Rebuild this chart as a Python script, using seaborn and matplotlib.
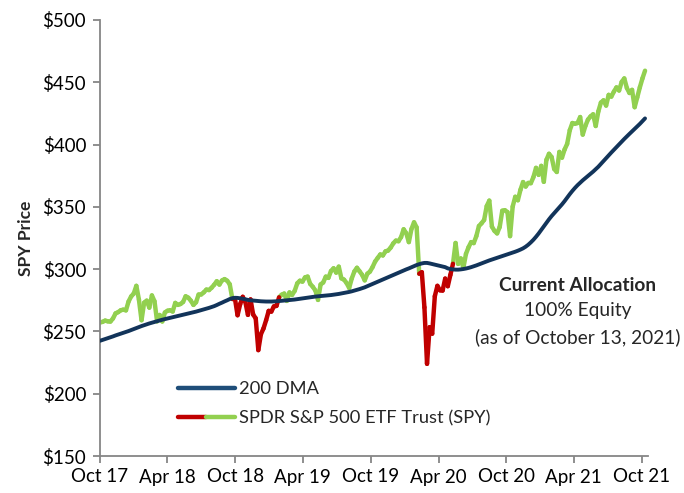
import pandas as pd
import seaborn as sns
import matplotlib.pyplot as plt
from matplotlib.lines import Line2D
from matplotlib.legend_handler import HandlerTuple

# weekly SPY closes (Fridays)
price_2017 = [257.1, 257.7, 258.7, 258.1, 257.9, 260.4, 264.5, 265.5, 267.0, 267.5, 266.9]
price_2018 = [274.0, 278.1, 280.4, 286.6, 275.5, 259.0, 273.1, 274.7, 269.1, 278.9, 274.2, 258.1, 263.2,
              258.0, 265.2, 266.6, 267.0, 266.0, 272.9, 271.3, 272.0, 273.6, 278.2, 277.1, 274.7, 271.3,
              273.4, 279.6, 279.7, 281.4, 283.6, 283.2, 285.1, 287.5, 290.3, 287.6, 290.9, 292.0, 290.7,
              287.8, 276.0, 276.3, 263.0, 271.9, 277.8, 273.7, 263.3, 275.7, 263.6, 260.5, 235.0, 247.8]
price_2019 = [252.4, 259.0, 266.5, 265.9, 270.1, 270.5, 277.4, 279.5, 280.4, 274.5, 281.3, 279.3, 282.5,
              288.6, 290.7, 290.0, 293.4, 294.0, 288.1, 285.8, 282.8, 275.3, 287.7, 289.3, 294.0, 293.0,
              298.5, 300.7, 297.2, 302.0, 292.6, 291.6, 288.9, 284.9, 292.5, 298.1, 301.1, 298.3, 295.4,
              291.0, 296.3, 298.0, 301.6, 306.1, 309.0, 311.8, 311.0, 314.3, 314.9, 317.3, 320.7, 322.9]
price_2020 = [322.4, 325.7, 332.0, 328.8, 321.7, 332.2, 337.6, 333.5, 296.3, 297.5, 269.3, 224.0, 253.4,
              248.2, 278.2, 286.6, 283.0, 282.8, 292.4, 286.3, 295.4, 304.3, 321.0, 304.2, 308.6, 301.0,
              312.2, 317.6, 321.7, 320.9, 326.5, 334.6, 336.8, 339.5, 350.6, 355.0, 334.1, 330.7, 328.7,
              333.8, 346.9, 347.3, 345.8, 326.5, 350.2, 358.1, 355.3, 363.7, 369.9, 366.3, 369.2, 369.0]
price_2021 = [373.9, 381.3, 375.7, 382.9, 370.1, 387.7, 392.6, 390.0, 380.4, 378.0, 394.1, 389.5, 396.0,
              400.6, 411.5, 417.3, 416.7, 417.3, 422.1, 408.0, 414.9, 420.0, 422.6, 424.3, 414.9, 426.6,
              433.7, 435.5, 431.3, 439.9, 438.5, 442.5, 445.9, 443.4, 450.3, 453.1, 445.4, 441.4, 443.9,
              430.0, 437.9, 445.9, 453.1, 459.3]

# 200-day moving average, same weeks
dma_2017 = [242.5, 243.2, 243.9, 244.6, 245.3, 246.0, 246.8, 247.5, 248.2, 248.9, 249.6]
dma_2018 = [250.3, 251.1, 251.9, 252.7, 253.5, 254.3, 255.0, 255.7, 256.4, 257.0, 257.6, 258.2, 258.8,
            259.4, 259.9, 260.4, 260.9, 261.4, 261.9, 262.4, 262.9, 263.4, 263.9, 264.4, 264.9, 265.4,
            265.9, 266.5, 267.1, 267.7, 268.3, 268.9, 269.6, 270.3, 271.2, 272.2, 273.1, 274.1, 275.0,
            276.0, 276.7, 277.0, 276.9, 276.6, 276.2, 275.8, 275.3, 275.0, 274.8, 274.6, 274.4, 274.2]
dma_2019 = [274.1, 274.0, 274.0, 274.0, 274.1, 274.2, 274.4, 274.6, 274.8, 275.0, 275.2, 275.4, 275.6,
            275.9, 276.2, 276.5, 276.8, 277.1, 277.4, 277.7, 278.0, 278.2, 278.4, 278.6, 278.8, 279.0,
            279.2, 279.5, 279.8, 280.1, 280.5, 280.9, 281.3, 281.7, 282.2, 282.8, 283.4, 284.0, 284.7,
            285.4, 286.3, 287.2, 288.1, 289.0, 289.9, 290.8, 291.7, 292.6, 293.5, 294.4, 295.3, 296.2]
dma_2020 = [297.1, 298.0, 298.9, 299.8, 300.6, 301.5, 302.4, 303.3, 304.0, 304.6, 305.0, 305.0, 304.6,
            304.1, 303.6, 303.1, 302.6, 302.1, 301.6, 300.6, 300.1, 299.8, 299.6, 299.6, 299.8, 300.1,
            300.5, 301.0, 301.6, 302.3, 303.0, 303.8, 304.6, 305.4, 306.2, 307.0, 307.7, 308.4, 309.1,
            309.8, 310.5, 311.2, 311.9, 312.6, 313.3, 314.0, 314.8, 315.7, 316.7, 318.0, 319.6, 321.5]
dma_2021 = [323.6, 326.0, 328.6, 331.4, 334.3, 337.2, 340.0, 342.6, 345.0, 347.3, 349.6, 352.0, 354.6,
            357.4, 360.2, 362.8, 365.2, 367.4, 369.4, 371.3, 373.1, 374.8, 376.5, 378.3, 380.2, 382.2,
            384.5, 386.8, 389.1, 391.4, 393.6, 395.8, 398.0, 400.2, 402.4, 404.5, 406.6, 408.6, 410.6,
            412.6, 414.6, 416.6, 418.8, 421.0]

tick_labels = ['Oct 17', 'Apr 18', 'Oct 18', 'Apr 19', 'Oct 19', 'Apr 20', 'Oct 20', 'Apr 21', 'Oct 21']
y_ticks = [150, 200, 250, 300, 350, 400, 450, 500]

price = price_2017 + price_2018 + price_2019 + price_2020 + price_2021
dma = dma_2017 + dma_2018 + dma_2019 + dma_2020 + dma_2021
dates = pd.date_range('2017-10-20', periods=len(price), freq='W-FRI')

GREEN = '#92D050'
RED = '#C00000'
NAVY = '#12345A'

# split price into 2-point segments, red when under the 200 DMA
rows = []
for i in range(len(price) - 1):
    below = (price[i] + price[i + 1]) < (dma[i] + dma[i + 1])
    state = 'below' if below else 'above'
    rows.append((i, dates[i], price[i], state))
    rows.append((i, dates[i + 1], price[i + 1], state))
segs = pd.DataFrame(rows, columns=['seg', 'date', 'price', 'state'])

sns.set_style('white')
plt.rcParams['font.family'] = ['Lato', 'DejaVu Sans']

fig = plt.figure(figsize=(6.84, 4.93), dpi=100)
ax = fig.add_axes([100 / 684, 37 / 493, 548 / 684, 436 / 493])

sns.lineplot(data=segs, x='date', y='price', hue='state', units='seg', estimator=None,
             palette={'above': GREEN, 'below': RED}, linewidth=3.2, legend=False,
             sort=False, solid_capstyle='round', ax=ax)
sns.lineplot(x=dates, y=dma, color=NAVY, linewidth=2.8, ax=ax, zorder=5)

tick_dates = [pd.Timestamp('2017-10-20') + pd.DateOffset(months=6 * k) for k in range(len(tick_labels))]
ax.set_xlim(pd.Timestamp('2017-10-20'), pd.Timestamp('2021-11-06'))
ax.set_xticks(tick_dates)
ax.set_xticklabels(tick_labels)
ax.set_ylim(150, 500)
ax.set_yticks(y_ticks)
ax.set_yticklabels([f'${v}' for v in y_ticks])

ax.set_xlabel('')
ax.set_ylabel('SPY Price', fontsize=12.5, fontweight='bold', labelpad=6)

for side in ['top', 'right']:
    ax.spines[side].set_visible(False)
for side in ['left', 'bottom']:
    ax.spines[side].set_color('#868686')
    ax.spines[side].set_linewidth(1.3)
ax.tick_params(axis='both', which='major', direction='out', length=5, width=1.3,
               color='#868686', labelsize=13.5, labelcolor='black', bottom=True, left=True)
ax.tick_params(axis='x', pad=4)
ax.tick_params(axis='y', pad=5)

# legend with split red/green line for the SPY series
h_dma = Line2D([], [], color='#1F4E79', linewidth=3.2)
h_red = Line2D([], [], color=RED, linewidth=3.2)
h_green = Line2D([], [], color=GREEN, linewidth=3.2)
ax.legend([h_dma, (h_red, h_green)], ['200 DMA', 'SPDR S&P 500 ETF Trust (SPY)'],
          handler_map={tuple: HandlerTuple(ndivide=None, pad=0)},
          loc='upper left', bbox_to_anchor=(0.142, 0.172), frameon=False, fontsize=13.2,
          handlelength=3.1, handletextpad=0.25, labelspacing=0.72, borderpad=0, borderaxespad=0)

ax.text(0.872, 0.392, 'Current Allocation', transform=ax.transAxes, ha='center', va='center',
        fontsize=13.8, fontweight='bold')
ax.text(0.872, 0.333, '100% Equity', transform=ax.transAxes, ha='center', va='center', fontsize=13.8)
ax.text(0.872, 0.273, '(as of October 13, 2021)', transform=ax.transAxes, ha='center', va='center',
        fontsize=13.8)

plt.savefig('out.png', dpi=100)
